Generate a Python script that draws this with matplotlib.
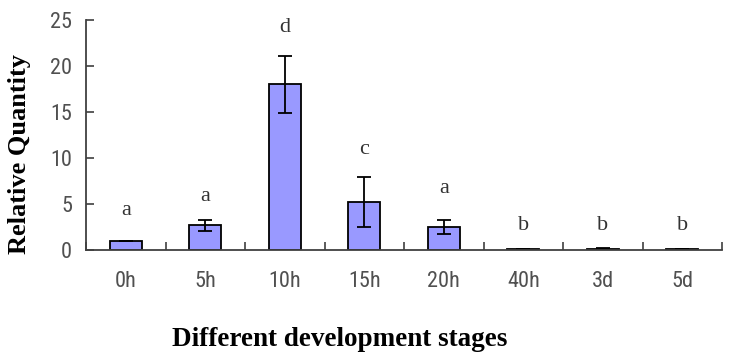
import numpy as np
import matplotlib
matplotlib.use('Agg')
import matplotlib.pyplot as plt

# data
stages = ['0h', '5h', '10h', '15h', '20h', '40h', '3d', '5d']
quantity = [1.0, 2.7, 18.0, 5.25, 2.5, 0.06, 0.15, 0.06]
errors = [0.0, 0.6, 3.1, 2.7, 0.75, 0.0, 0.08, 0.0]
letters = ['a', 'a', 'd', 'c', 'a', 'b', 'b', 'b']
letter_y = [4.3, 5.8, 24.2, 10.9, 6.7, 2.7, 2.7, 2.7]

axis_col = '#404040'

fig = plt.figure(figsize=(7.32, 3.61), dpi=100)
ax = fig.add_axes([86/732, 1 - 250/361, (722 - 86)/732, (250 - 20)/361])

x = np.arange(len(stages))
ax.bar(x, quantity, width=0.4, color='#9999FF', edgecolor='black', linewidth=1.3,
       yerr=errors, error_kw=dict(ecolor='black', elinewidth=1.3, capsize=5, capthick=1.3))

for xi, lab, ly in zip(x, letters, letter_y):
    ax.text(xi, ly, lab, ha='center', va='center', fontsize=16,
            family='Liberation Serif', color='#333333')

ax.set_xlim(-0.5, len(stages) - 0.5)
ax.set_ylim(0, 25)
ax.set_yticks([0, 5, 10, 15, 20, 25])

# category labels centered, tick marks at boundaries
ax.set_xticks(x)
ax.set_xticklabels(stages)
ax.set_xticks(np.arange(len(stages) + 1) - 0.5, minor=True)
ax.tick_params(axis='x', which='major', length=0, pad=15)
ax.tick_params(axis='x', which='minor', direction='in', length=6, color=axis_col, width=1.2)
ax.tick_params(axis='y', direction='in', length=6, color=axis_col, width=1.2, pad=10)
for lbl in ax.get_xticklabels() + ax.get_yticklabels():
    lbl.set_family(['Roboto Condensed', 'DejaVu Sans'])
    lbl.set_stretch('condensed')
    lbl.set_fontsize(16)
    lbl.set_color('#505050')

for side in ['top', 'right']:
    ax.spines[side].set_visible(False)
for side in ['left', 'bottom']:
    ax.spines[side].set_color(axis_col)
    ax.spines[side].set_linewidth(1.3)

fig.text(20/732, 1 - 154/361, 'Relative Quantity', rotation=90, ha='center', va='center',
         family='Liberation Serif', fontweight='bold', fontsize=19)
fig.text(340/732, 1 - 339/361, 'Different development stages', ha='center', va='center',
         family='Liberation Serif', fontweight='bold', fontsize=19.5)

fig.savefig('out.png', dpi=100)
